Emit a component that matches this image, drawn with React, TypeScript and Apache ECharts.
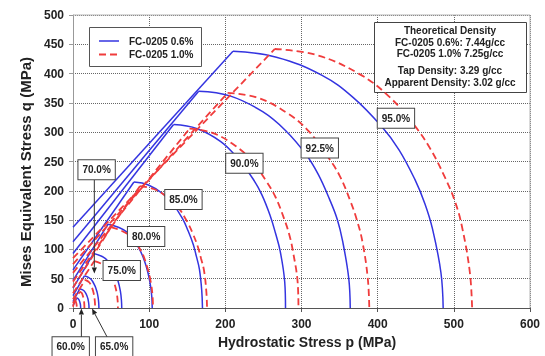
import { useEffect, useRef } from "react";
import * as echarts from "echarts";

const FONT = '"Liberation Sans", Arial, sans-serif';
const BLUE = "#3434e0";
const RED = "#f03c3c";
const RED_DASH = [7, 4];

const seriesNames = ["FC-0205 0.6%", "FC-0205 1.0%"];
const densityLabels = ["95.0%", "92.5%", "90.0%", "85.0%", "80.0%", "75.0%", "70.0%", "65.0%", "60.0%"];

// Axis ticks
const pTicks = [0, 100, 200, 300, 400, 500, 600];
const qTicks = [0, 50, 100, 150, 200, 250, 300, 350, 400, 450, 500];

// FC-0205 0.6%: shear failure line, from its q-intercept to the start of the cap
const fc06Shear: number[][][] = [
  [[0, 138], [210, 438]],
  [[0, 113], [165, 370]],
  [[0, 93], [132, 313]],
  [[0, 65], [80, 215]],
  [[0, 47], [46, 143]],
  [[0, 34], [27, 93]],
  [[0, 21], [15, 55]],
  [[0, 11], [9, 33]],
  [[0, 4], [5, 17]],
];

// FC-0205 0.6%: cap surface, from its top down to the p axis
const fc06Caps: number[][][] = [
  [[210, 438], [267, 428], [327, 397], [368, 359], [405, 310], [428, 270], [449, 219], [462, 178], [472, 135], [483, 61], [486, 0]],
  [[165, 370], [206, 362], [249, 335], [279, 303], [306, 262], [322, 228], [337, 185], [347, 151], [354, 114], [362, 51], [364, 0]],
  [[132, 313], [163, 306], [194, 284], [216, 256], [236, 221], [248, 193], [259, 157], [266, 127], [272, 97], [278, 44], [279, 0]],
  [[80, 215], [99, 210], [118, 195], [132, 176], [144, 152], [151, 132], [158, 108], [162, 88], [166, 66], [169, 30], [170, 0]],
  [[46, 143], [70.5, 130], [87, 101], [96, 71.5], [101, 44], [103.4, 20], [104, 0]],
  [[27, 93], [42.7, 84.3], [53.2, 65.8], [59, 46.5], [62.2, 28.7], [63.6, 12.9], [64, 0]],
  [[15, 55], [23, 49.8], [28.4, 38.9], [31.5, 27.5], [33.1, 17], [33.8, 7.7], [34, 0]],
  [[9, 33], [14.1, 29.9], [17.5, 23.3], [19.4, 16.5], [20.4, 10.2], [20.9, 4.6], [21, 0]],
  [[5, 17], [7.1, 15.4], [8.5, 12], [9.3, 8.5], [9.8, 5.3], [9.95, 2.4], [10, 0]],
];

// FC-0205 1.0%: shear failure line
const fc10Shear: number[][][] = [
  [[0, 85], [265, 442]],
  [[0, 75], [203, 367]],
  [[0, 60], [153, 306]],
  [[0, 45], [88, 208]],
  [[0, 35], [50, 138]],
  [[0, 25], [28, 80]],
  [[0, 15], [16, 48]],
  [[0, 8], [9, 28]],
  [[0, 2], [2, 13]],
];

// FC-0205 1.0%: cap surface
const fc10Caps: number[][][] = [
  [[265, 442], [319, 432], [375, 400], [414, 362], [448, 312], [469, 272], [489, 221], [502, 180], [511, 137], [521, 61], [524, 0]],
  [[203, 367], [242, 359], [282, 332], [310, 301], [334, 259], [350, 226], [364, 183], [373, 149], [380, 113], [387, 51], [389, 0]],
  [[153, 306], [183, 299], [213, 277], [235, 251], [254, 216], [266, 189], [277, 153], [284, 125], [289, 95], [295, 43], [296, 0]],
  [[88, 208], [106, 203], [125, 188], [139, 170], [150, 147], [157, 128], [164, 104], [168, 85], [172, 64], [175, 29], [176, 0]],
  [[50, 138], [73, 125], [89, 98], [97.6, 69], [102.3, 43], [104.5, 19], [105, 0]],
  [[28, 80], [41, 72.5], [50, 56.6], [54.8, 40], [57.5, 24.7], [58.7, 11.1], [59, 0]],
  [[16, 48], [21.5, 43.5], [25.2, 34], [27.3, 24], [28.4, 14.8], [28.9, 6.7], [29, 0]],
  [[9, 28], [11.5, 25.4], [13.2, 19.8], [14.2, 14], [14.7, 8.7], [14.9, 3.9], [15, 0]],
  [[2, 13], [3.3, 11.8], [4.1, 9.2], [4.6, 6.5], [4.85, 4], [4.97, 1.8], [5, 0]],
];

// Density label box centres (p, q), same order as densityLabels
const labelAnchors: number[][] = [
  [424, 324], [324, 273], [225, 247], [145, 185], [96, 122], [64, 64], [31, 236], [54, -66], [-3, -66],
];

// Leader arrows: [label, from (p, q), arrow tip (p, q)]
const leaders: [string, number[], number[]][] = [
  ["70.0%", [28, 219], [28, 59]],
  ["65.0%", [45, -50], [25, -1]],
  ["60.0%", [11, -50], [11, -1]],
];

const infoLines = [
  "Theoretical Density",
  "FC-0205 0.6%: 7.44g/cc",
  "FC-0205 1.0% 7.25g/cc",
  "Tap Density: 3.29 g/cc",
  "Apparent Density: 3.02 g/cc",
];
const infoLineY = [30, 42.5, 53.5, 70.5, 82.5];

function buildSeries() {
  const out: any[] = [];
  const groups = [
    { name: seriesNames[0], shear: fc06Shear, caps: fc06Caps, color: BLUE, width: 1.5, type: "solid" as any },
    { name: seriesNames[1], shear: fc10Shear, caps: fc10Caps, color: RED, width: 1.8, type: RED_DASH as any },
  ];
  groups.forEach((g) => {
    g.shear.forEach((line, i) => {
      const lineStyle = { color: g.color, width: g.width, type: g.type };
      out.push({
        type: "line",
        name: g.name,
        data: line,
        symbol: "none",
        lineStyle,
        itemStyle: { color: g.color },
        silent: true,
      });
      out.push({
        type: "line",
        name: g.name,
        data: g.caps[i],
        symbol: "none",
        smooth: 0.4,
        lineStyle,
        itemStyle: { color: g.color },
        silent: true,
      });
    });
  });
  return out;
}

export default function App() {
  const ref = useRef<HTMLDivElement>(null);

  useEffect(() => {
    const chart = echarts.init(ref.current!, undefined, { renderer: "svg" });
    const axisLabel = { fontFamily: FONT, fontSize: 12, fontWeight: "bold", color: "#222" };
    chart.setOption({
      animation: false,
      textStyle: { fontFamily: FONT },
      grid: { left: 73, right: 15, top: 15, bottom: 48, containLabel: false },
      xAxis: {
        type: "value",
        min: pTicks[0],
        max: pTicks[pTicks.length - 1],
        interval: pTicks[1] - pTicks[0],
        name: "Hydrostatic Stress p (MPa)",
        nameLocation: "middle",
        nameGap: 25,
        nameTextStyle: { fontFamily: FONT, fontSize: 14, fontWeight: "bold", color: "#222", padding: [0, 0, 0, 11] },
        axisLine: { show: true, lineStyle: { color: "#555", width: 1 } },
        axisTick: { show: true, length: 4, lineStyle: { color: "#555" } },
        axisLabel: { ...axisLabel, margin: 10 },
        splitLine: { show: true, lineStyle: { color: "#666", width: 1, type: [1, 1] } },
      },
      yAxis: {
        type: "value",
        min: qTicks[0],
        max: qTicks[qTicks.length - 1],
        interval: qTicks[1] - qTicks[0],
        name: "Mises Equivalent Stress q (MPa)",
        nameLocation: "middle",
        nameGap: 39,
        nameTextStyle: { fontFamily: FONT, fontSize: 15, fontWeight: "bold", color: "#222", padding: [0, 21, 0, 0] },
        axisLine: { show: true, lineStyle: { color: "#999", width: 1 } },
        axisTick: { show: true, length: 4, lineStyle: { color: "#999" } },
        axisLabel: { ...axisLabel, margin: 9 },
        splitLine: { show: true, lineStyle: { color: "#666", width: 1, type: [1, 1] } },
      },
      series: buildSeries(),
    });

    const px = (p: number, q: number) => chart.convertToPixel({ gridIndex: 0 }, [p, q]) as number[];
    const graphics: any[] = [];

    // Plot frame on the top and right sides
    const tl = px(pTicks[0], qTicks[qTicks.length - 1]);
    const tr = px(pTicks[pTicks.length - 1], qTicks[qTicks.length - 1]);
    const br = px(pTicks[pTicks.length - 1], qTicks[0]);
    graphics.push({ type: "line", z: 10, shape: { x1: tl[0], y1: tl[1], x2: tr[0], y2: tr[1] }, style: { stroke: "#b4b4b4", lineWidth: 1 } });
    graphics.push({ type: "line", z: 10, shape: { x1: tr[0], y1: tr[1], x2: br[0], y2: br[1] }, style: { stroke: "#b4b4b4", lineWidth: 1 } });

    // Legend box
    const legendChildren: any[] = [
      { type: "rect", shape: { x: 89.5, y: 27.5, width: 112, height: 39 }, style: { fill: "#fff", stroke: "#555", lineWidth: 1 } },
    ];
    const legendStyles = [
      { stroke: BLUE, lineWidth: 1.5, lineDash: null as any },
      { stroke: RED, lineWidth: 1.8, lineDash: RED_DASH },
    ];
    seriesNames.forEach((name, i) => {
      const y = 41 + i * 13.5;
      legendChildren.push({ type: "line", shape: { x1: 99, y1: y, x2: 119, y2: y }, style: legendStyles[i] });
      legendChildren.push({
        type: "text",
        x: 129,
        y,
        style: { text: name, font: `bold 10px ${FONT}`, fill: "#222", align: "left", verticalAlign: "middle" },
      });
    });
    graphics.push({ type: "group", z: 30, children: legendChildren });

    // Leader lines with arrowheads
    leaders.forEach(([, from, tip]) => {
      const a = px(from[0], from[1]);
      const b = px(tip[0], tip[1]);
      const dx = b[0] - a[0];
      const dy = b[1] - a[1];
      const len = Math.hypot(dx, dy);
      const ux = dx / len;
      const uy = dy / len;
      const head = 6;
      const half = 2.6;
      const bx = b[0] - ux * head;
      const by = b[1] - uy * head;
      graphics.push({ type: "line", z: 20, shape: { x1: a[0], y1: a[1], x2: bx, y2: by }, style: { stroke: "#333", lineWidth: 1 } });
      graphics.push({
        type: "polygon",
        z: 20,
        shape: { points: [[b[0], b[1]], [bx - uy * half, by + ux * half], [bx + uy * half, by - ux * half]] },
        style: { fill: "#222" },
      });
    });

    // Density labels
    densityLabels.forEach((label, i) => {
      const c = px(labelAnchors[i][0], labelAnchors[i][1]);
      graphics.push({
        type: "text",
        z: 30,
        x: c[0],
        y: c[1],
        style: {
          text: label,
          font: `bold 10px ${FONT}`,
          fill: "#222",
          align: "center",
          verticalAlign: "middle",
          backgroundColor: "#fff",
          borderColor: "#444",
          borderWidth: 1,
          padding: [5, 4, 4, 4],
        },
      });
    });

    // Density information box
    const infoChildren: any[] = [
      { type: "rect", shape: { x: 374.5, y: 22.5, width: 152, height: 70 }, style: { fill: "#fff", stroke: "#444", lineWidth: 1 } },
    ];
    infoLines.forEach((t, i) => {
      infoChildren.push({
        type: "text",
        x: 450,
        y: infoLineY[i],
        style: { text: t, font: `bold 10px ${FONT}`, fill: "#222", align: "center", verticalAlign: "middle" },
      });
    });
    graphics.push({ type: "group", z: 30, children: infoChildren });

    chart.setOption({ graphic: graphics });
    return () => chart.dispose();
  }, []);

  return <div ref={ref} style={{ position: "fixed", left: 0, top: 0, width: 545, height: 356 }} />;
}
